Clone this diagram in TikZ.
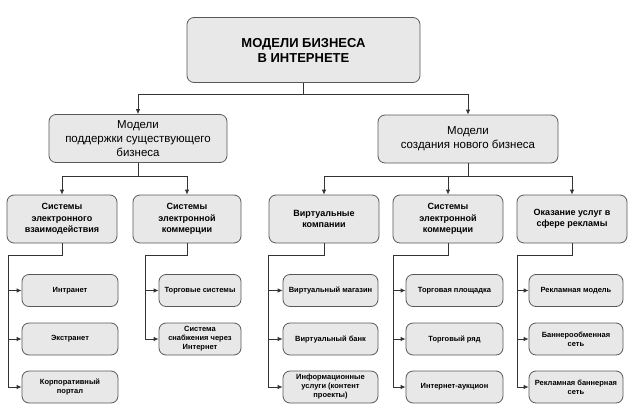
\documentclass[tikz,border=0pt]{standalone}
\usepackage{fontspec}
\setmainfont{Liberation Sans}
\usetikzlibrary{arrows.meta}

\tikzset{
  box/.style={draw=black!65, fill=black!9, rounded corners=7pt, line width=0.8pt,
    align=center, inner sep=1pt},
  boxtop/.style={box, minimum width=233pt, minimum height=65pt, font=\fontsize{13}{15}\selectfont\bfseries},
  boxmid/.style={box, minimum height=48pt, font=\fontsize{11.5}{14}\selectfont},
  boxsub/.style={box, minimum width=110pt, minimum height=48pt, font=\fontsize{9}{11.5}\selectfont\bfseries},
  boxleaf/.style={box, minimum height=32pt, font=\fontsize{7.5}{9}\selectfont\bfseries},
  link/.style={draw=black!80, line width=0.8pt},
  arr/.style={link, -{Latex[length=5pt,width=4.5pt]}}
}

\begin{document}
\begin{tikzpicture}[x=1pt,y=-1pt]
   \useasboundingbox (0,0) rectangle (633,418);

   \node[boxtop] (top) at (303.5,50) {МОДЕЛИ БИЗНЕСА\\В ИНТЕРНЕТЕ};

   \node[boxmid, minimum width=178pt] (old) at (138,138.5) {Модели\\поддержки существующего\\бизнеса};
   \node[boxmid, minimum width=180pt] (new) at (468,139) {Модели\\создания нового бизнеса};

   \node[boxsub] (sA) at (62,219) {Системы\\электронного\\взаимодействия};
   \node[boxsub, minimum width=108pt] (sB) at (187,219) {Системы\\электронной\\коммерции};
   \node[boxsub] (sC) at (324,219) {Виртуальные\\компании};
   \node[boxsub] (sD) at (448,219) {Системы\\электронной\\коммерции};
   \node[boxsub] (sE) at (572,219) {Оказание услуг в\\сфере рекламы};

   \node[boxleaf, minimum width=96pt] (a1) at (70,290.5) {Интранет};
   \node[boxleaf, minimum width=96pt] (a2) at (70,339) {Экстранет};
   \node[boxleaf, minimum width=96pt] (a3) at (70,387) {Корпоративный\\портал};

   \node[boxleaf, minimum width=82pt] (b1) at (200,290.5) {Торговые системы};
   \node[boxleaf, minimum width=82pt] (b2) at (200,339) {Система\\снабжения через\\Интернет};

   \node[boxleaf, minimum width=95pt] (c1) at (330.5,290.5) {Виртуальный магазин};
   \node[boxleaf, minimum width=95pt] (c2) at (330.5,339) {Виртуальный банк};
   \node[boxleaf, minimum width=95pt] (c3) at (330.5,387) {Информационные\\услуги (контент\\проекты)};

   \node[boxleaf, minimum width=97pt] (d1) at (454.5,290.5) {Торговая площадка};
   \node[boxleaf, minimum width=97pt] (d2) at (454.5,339) {Торговый ряд};
   \node[boxleaf, minimum width=97pt] (d3) at (454.5,387) {Интернет-аукцион};

   \node[boxleaf, minimum width=94pt] (e1) at (576,290.5) {Рекламная модель};
   \node[boxleaf, minimum width=94pt] (e2) at (576,339) {Баннерообменная\\сеть};
   \node[boxleaf, minimum width=94pt] (e3) at (576,387) {Рекламная баннерная\\сеть};

   % top level
   \coordinate (j0) at (303.5,94);
   \draw[link] (top.south) -- (j0);
   \draw[arr] (j0) -| (old.north);
   \draw[arr] (j0) -| (new.north);

   % second level
   \coordinate (j1) at (138,176);
   \coordinate (j2) at (468,176);
   \draw[link] (old.south) -- (j1);
   \draw[arr] (j1) -| (sA.north);
   \draw[arr] (j1) -| (sB.north);
   \draw[link] (new.south) -- (j2);
   \draw[arr] (j2) -| (sC.north);
   \draw[arr] (j2) -| (sD.north);
   \draw[arr] (j2) -| (sE.north);

   % spines
   \coordinate (kA) at (8,255);
   \coordinate (kB) at (145,255);
   \coordinate (kC) at (268,255);
   \coordinate (kD) at (393,255);
   \coordinate (kE) at (517,255);
   \draw[link] (sA.south) |- (kA) -- (kA |- a3.west);
   \draw[link] (sB.south) |- (kB) -- (kB |- b2.west);
   \draw[link] (sC.south) |- (kC) -- (kC |- c3.west);
   \draw[link] (sD.south) |- (kD) -- (kD |- d3.west);
   \draw[link] (sE.south) |- (kE) -- (kE |- e3.west);

   \draw[arr] (kA |- a1.west) -- (a1.west);
   \draw[arr] (kA |- a2.west) -- (a2.west);
   \draw[arr] (kA |- a3.west) -- (a3.west);
   \draw[arr] (kB |- b1.west) -- (b1.west);
   \draw[arr] (kB |- b2.west) -- (b2.west);
   \draw[arr] (kC |- c1.west) -- (c1.west);
   \draw[arr] (kC |- c2.west) -- (c2.west);
   \draw[arr] (kC |- c3.west) -- (c3.west);
   \draw[arr] (kD |- d1.west) -- (d1.west);
   \draw[arr] (kD |- d2.west) -- (d2.west);
   \draw[arr] (kD |- d3.west) -- (d3.west);
   \draw[arr] (kE |- e1.west) -- (e1.west);
   \draw[arr] (kE |- e2.west) -- (e2.west);
   \draw[arr] (kE |- e3.west) -- (e3.west);

\end{tikzpicture}
\end{document}
